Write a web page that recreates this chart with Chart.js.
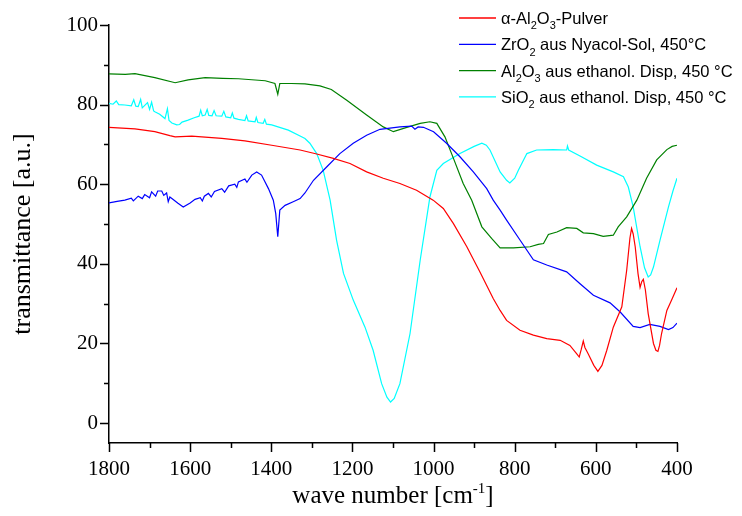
<!DOCTYPE html>
<html>
<head>
<meta charset="utf-8">
<script src="https://cdn.jsdelivr.net/npm/chart.js@4"></script>
<style>
    html, body { margin: 0; padding: 0; background: #fff; }
</style>
</head>
<body>
<canvas id="irChart" width="742" height="516"></canvas>
<script>
// IR spectra - transmittance vs. wave number (alumina, zirconia, silica)

const xTicks = [1800, 1600, 1400, 1200, 1000, 800, 600, 400];
const xMinorTicks = [1700, 1500, 1300, 1100, 900, 700, 500];
const yTicks = [0, 20, 40, 60, 80, 100];
const yMinorTicks = [10, 30, 50, 70, 90];

const seriesLabels = [
    'α-Al_2O_3-Pulver',
    'ZrO_2 aus Nyacol-Sol, 450°C',
    'Al_2O_3 aus ethanol. Disp, 450 °C',
    'SiO_2 aus ethanol. Disp, 450 °C'
];

// alpha-Al2O3 powder
const redWave = [1800, 1736, 1687, 1650, 1637, 1596, 1522, 1465, 1399, 1329, 1288, 1247, 1206, 1165, 1124, 1083, 1042, 1001, 976, 951, 918, 886, 853, 836, 820, 787, 754, 721, 688, 664, 647, 641, 636, 631, 627, 619, 605, 595, 585, 573, 557, 536, 524, 516, 512, 508, 503, 496, 491, 487, 483, 478, 471, 458, 452, 447, 443, 438, 425, 413, 400];
const redT = [74.3, 73.9, 73.2, 72.2, 71.9, 72.1, 71.5, 70.9, 69.8, 68.6, 67.6, 66.5, 65.2, 63.1, 61.5, 60.2, 58.5, 56.0, 53.9, 50.1, 44.3, 38.0, 31.3, 28.3, 25.8, 23.3, 22.1, 21.2, 20.8, 19.5, 17.4, 16.6, 18.5, 20.6, 19.0, 17.4, 14.5, 13.0, 14.5, 18.3, 24.1, 29.2, 38.4, 46.5, 48.9, 47.5, 44.3, 37.5, 34.1, 35.5, 36.1, 33.5, 27.5, 20.0, 18.3, 18.0, 19.5, 22.5, 28.3, 31.0, 34.0];

// ZrO2 from Nyacol sol
const blueWave = [1800, 1780, 1761, 1745, 1740, 1728, 1718, 1712, 1700, 1695, 1685, 1680, 1670, 1665, 1658, 1654, 1650, 1645, 1630, 1617, 1600, 1588, 1575, 1570, 1565, 1555, 1548, 1540, 1522, 1515, 1505, 1490, 1485, 1481, 1465, 1460, 1448, 1436, 1424, 1407, 1395, 1389, 1384, 1379, 1366, 1346, 1329, 1317, 1296, 1263, 1231, 1198, 1165, 1132, 1083, 1054, 1046, 1038, 1025, 1000, 968, 935, 902, 869, 853, 836, 820, 787, 754, 721, 672, 639, 606, 565, 540, 508, 491, 467, 442, 421, 410, 400];
const blueT = [55.3, 55.7, 56.0, 56.5, 55.8, 57.0, 56.4, 57.4, 56.6, 58.1, 57.0, 58.3, 58.3, 57.2, 57.8, 55.6, 56.8, 56.4, 55.2, 54.3, 55.3, 56.2, 56.6, 55.8, 57.0, 57.7, 56.8, 58.2, 58.9, 58.0, 59.6, 60.0, 59.2, 60.6, 61.3, 60.5, 62.3, 63.1, 62.3, 58.9, 56.0, 52.6, 46.8, 53.5, 54.7, 55.6, 56.4, 57.8, 61.0, 64.4, 67.7, 70.3, 72.3, 73.8, 74.4, 74.6, 73.8, 74.4, 74.3, 73.2, 70.3, 66.9, 63.1, 58.9, 56.0, 53.5, 51.0, 46.0, 41.0, 39.7, 38.0, 35.0, 32.1, 30.2, 27.9, 24.3, 24.0, 24.8, 24.3, 23.5, 24.0, 25.1];

// Al2O3 from ethanolic dispersion
const greenWave = [1800, 1760, 1736, 1687, 1637, 1605, 1563, 1520, 1481, 1415, 1391, 1384, 1379, 1350, 1317, 1280, 1252, 1214, 1165, 1124, 1099, 1066, 1033, 1009, 992, 972, 951, 927, 906, 881, 857, 836, 803, 762, 742, 729, 717, 696, 672, 647, 631, 606, 582, 557, 545, 524, 499, 475, 450, 425, 412, 400];
const greenT = [87.7, 87.6, 87.8, 86.8, 85.5, 86.2, 86.8, 86.6, 86.5, 86.0, 85.3, 82.6, 85.3, 85.3, 85.2, 84.7, 83.8, 81.1, 77.4, 74.4, 73.2, 74.3, 75.3, 75.7, 75.3, 71.9, 66.5, 60.2, 56.0, 49.3, 46.4, 44.0, 44.0, 44.3, 44.9, 45.1, 47.4, 48.0, 49.1, 48.9, 47.8, 47.6, 46.9, 47.2, 49.3, 51.8, 56.0, 61.5, 66.1, 68.7, 69.5, 69.8];

// SiO2 from ethanolic dispersion
const cyanWave = [1800, 1790, 1782, 1776, 1761, 1745, 1739, 1734, 1728, 1722, 1718, 1705, 1700, 1695, 1690, 1687, 1675, 1662, 1656, 1652, 1645, 1633, 1626, 1620, 1605, 1590, 1578, 1574, 1570, 1563, 1558, 1554, 1546, 1541, 1536, 1522, 1517, 1512, 1500, 1496, 1492, 1481, 1465, 1461, 1457, 1440, 1437, 1433, 1420, 1416, 1412, 1399, 1358, 1329, 1317, 1305, 1288, 1272, 1255, 1239, 1222, 1198, 1169, 1149, 1128, 1115, 1106, 1097, 1083, 1058, 1033, 1009, 992, 976, 935, 900, 881, 870, 861, 836, 820, 812, 800, 791, 770, 746, 705, 672, 670, 667, 639, 598, 557, 532, 520, 508, 491, 480, 471, 465, 458, 442, 421, 410, 400];
const cyanT = [80.3, 80.1, 80.9, 80.0, 79.9, 79.7, 81.2, 79.6, 79.5, 81.3, 79.2, 80.5, 78.8, 80.6, 78.4, 78.2, 77.6, 76.5, 79.0, 76.0, 75.4, 74.9, 75.0, 75.6, 76.1, 76.7, 77.1, 78.6, 77.2, 77.4, 78.8, 77.3, 77.2, 78.5, 77.2, 77.1, 78.3, 76.9, 76.7, 77.9, 76.6, 76.3, 76.0, 77.2, 75.9, 75.7, 76.8, 75.5, 75.3, 76.3, 75.1, 74.9, 73.6, 72.1, 71.5, 70.3, 67.7, 63.5, 56.0, 45.9, 37.6, 30.9, 24.1, 18.3, 9.9, 6.5, 5.3, 6.2, 9.9, 22.5, 40.9, 56.8, 63.5, 65.2, 67.7, 69.5, 70.3, 69.8, 68.6, 63.1, 61.0, 60.3, 61.5, 63.5, 67.7, 68.6, 68.7, 68.6, 69.6, 68.6, 67.1, 64.8, 63.1, 61.9, 59.3, 54.3, 44.3, 39.0, 36.7, 37.2, 39.2, 45.9, 54.3, 58.3, 61.5];

function toPoints(wave, t) {
    return wave.map((w, i) => ({ x: w, y: t[i] }));
}

// draws "Al_2O_3" style text, _digit = subscript
function drawRich(ctx, text, x, y, size) {
    const parts = text.split(/(_\d)/);
    parts.forEach(p => {
        if (!p) return;
        if (p[0] === '_') {
            ctx.font = Math.round(size * 0.66) + 'px "Liberation Sans", Arial, sans-serif';
            ctx.fillText(p.slice(1), x, y + size * 0.33);
            x += ctx.measureText(p.slice(1)).width;
        } else {
            ctx.font = size + 'px "Liberation Sans", Arial, sans-serif';
            ctx.fillText(p, x, y);
            x += ctx.measureText(p).width;
        }
    });
}

const axisDecor = {
    id: 'axisDecor',
    afterDraw(chart) {
        const ctx = chart.ctx;
        const area = chart.chartArea;
        const xs = chart.scales.x;
        const ys = chart.scales.y;
        ctx.save();
        ctx.strokeStyle = '#000';
        ctx.lineWidth = 1.5;
        ctx.beginPath();
        xTicks.forEach(v => {
            const px = Math.round(xs.getPixelForValue(v)) + 0.5;
            ctx.moveTo(px, area.bottom); ctx.lineTo(px, area.bottom + 9);
        });
        xMinorTicks.forEach(v => {
            const px = Math.round(xs.getPixelForValue(v)) + 0.5;
            ctx.moveTo(px, area.bottom); ctx.lineTo(px, area.bottom + 5);
        });
        yTicks.forEach(v => {
            const py = Math.round(ys.getPixelForValue(v)) + 0.5;
            ctx.moveTo(area.left, py); ctx.lineTo(area.left - 9, py);
        });
        yMinorTicks.forEach(v => {
            const py = Math.round(ys.getPixelForValue(v)) + 0.5;
            ctx.moveTo(area.left, py); ctx.lineTo(area.left - 5, py);
        });
        ctx.stroke();

        // x axis title with superscript
        ctx.fillStyle = '#000';
        ctx.textBaseline = 'alphabetic';
        const big = '25px "Liberation Serif", "Times New Roman", serif';
        const small = '15px "Liberation Serif", "Times New Roman", serif';
        ctx.font = big;
        const w1 = ctx.measureText('wave number [cm').width;
        const w3 = ctx.measureText(']').width;
        ctx.font = small;
        const w2 = ctx.measureText('-1').width;
        let tx = (area.left + area.right) / 2 - (w1 + w2 + w3) / 2;
        const ty = 503;
        ctx.font = big;
        ctx.fillText('wave number [cm', tx, ty);
        tx += w1;
        ctx.font = small;
        ctx.fillText('-1', tx, ty - 10);
        tx += w2;
        ctx.font = big;
        ctx.fillText(']', tx, ty);

        // legend
        chart.data.datasets.forEach((ds, i) => {
            const ly = 18 + i * 26.3;
            ctx.strokeStyle = ds.borderColor;
            ctx.lineWidth = 1.3;
            ctx.beginPath();
            ctx.moveTo(459, ly);
            ctx.lineTo(496, ly);
            ctx.stroke();
            ctx.fillStyle = '#000';
            drawRich(ctx, seriesLabels[i], 501, ly + 6, 16.5);
        });
        ctx.restore();
    }
};

const ctx = document.getElementById('irChart').getContext('2d');
const irChart = new Chart(ctx, {
    type: 'line',
    data: {
        datasets: [
            { label: seriesLabels[0], data: toPoints(redWave, redT), borderColor: '#ff0000' },
            { label: seriesLabels[1], data: toPoints(blueWave, blueT), borderColor: '#0000ff' },
            { label: seriesLabels[2], data: toPoints(greenWave, greenT), borderColor: '#008000' },
            { label: seriesLabels[3], data: toPoints(cyanWave, cyanT), borderColor: '#00ffff' }
        ]
    },
    options: {
        responsive: false,
        animation: false,
        layout: { padding: { left: 0, right: 65, top: 25, bottom: 0 } },
        elements: {
            point: { radius: 0 },
            line: { borderWidth: 1.2, tension: 0, fill: false }
        },
        plugins: {
            legend: { display: false },
            tooltip: { enabled: false }
        },
        scales: {
            x: {
                type: 'linear',
                reverse: true,
                min: 400,
                max: 1800,
                afterBuildTicks: scale => { scale.ticks = xTicks.map(v => ({ value: v })); },
                afterFit: scale => { scale.height = 73; },
                grid: { display: false, drawTicks: true, tickLength: 9 },
                border: { display: true, color: '#000', width: 1.5 },
                ticks: {
                    color: '#000',
                    padding: 5,
                    maxRotation: 0,
                    autoSkip: false,
                    callback: value => String(value),
                    font: { family: '"Liberation Serif", "Times New Roman", serif', size: 21 }
                }
            },
            y: {
                min: -5,
                max: 100,
                afterBuildTicks: scale => { scale.ticks = yTicks.map(v => ({ value: v })); },
                afterFit: scale => { scale.width = 109; },
                grid: { display: false, drawTicks: true, tickLength: 9 },
                border: { display: true, color: '#000', width: 1.5 },
                ticks: {
                    color: '#000',
                    padding: 2,
                    autoSkip: false,
                    callback: value => String(value),
                    font: { family: '"Liberation Serif", "Times New Roman", serif', size: 21 }
                },
                title: {
                    display: true,
                    text: 'transmittance [a.u.]',
                    color: '#000',
                    padding: { top: 8, bottom: 0 },
                    font: { family: '"Liberation Serif", "Times New Roman", serif', size: 26, weight: 'normal' }
                }
            }
        }
    },
    plugins: [axisDecor]
});
</script>
</body>
</html>
